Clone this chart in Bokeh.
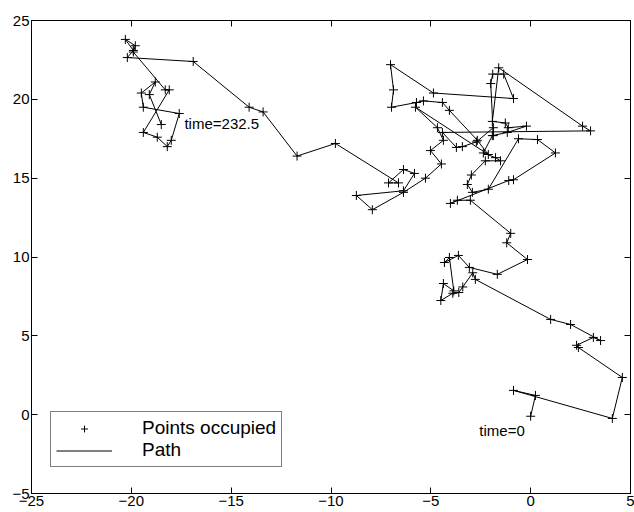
from bokeh.plotting import figure
from bokeh.models import Range1d, LinearAxis, FixedTicker, Label, Legend, LegendItem
from bokeh.embed import file_html
from bokeh.resources import INLINE

# Random walk path, in time order (start -> end)
walk_x = [0.0, 0.24, -0.86, 4.09, 4.59, 2.39, 2.3, 3.14, 3.5, 2.0, 1.0, -2.77, -2.9, -3.4, -3.6, -3.9,
          -4.5, -4.37, -3.85, -4.07, -4.32, -3.62, -3.07, -1.67, -0.16, -1.2, -1.0, -3.02, -3.67, -4.02,
          -1.1, -0.86, 1.24, 0.34, -0.61, -2.12, -2.92, -3.17, -2.97, -2.27, -1.51, -1.76, -2.37, -1.92,
          -1.17, -0.21, -1.12, -1.27, -1.92, -1.6, 2.6, 3.0, -4.42, -3.72, -3.42, -2.72, -1.87, -1.87,
          -2.0, -1.9, -1.35, -0.86, -4.87, -7.02, -6.87, -6.97, -5.72, -5.37, -4.42, -4.07, -2.67, -2.12,
          -5.77, -4.67, -4.37, -5.02, -4.47, -5.27, -6.37, -7.93, -8.73, -6.37, -5.82, -6.37, -7.12, -6.62,
          -9.78, -11.7, -13.4, -14.1, -16.9, -20.2, -19.9, -20.3, -19.8, -19.9, -18.3, -18.1, -19.4, -18.7,
          -18.2, -18.0, -17.6, -19.4, -19.5, -18.8, -19.1, -18.5]
walk_y = [-0.1, 1.22, 1.54, -0.24, 2.36, 4.26, 4.4, 4.9, 4.7, 5.72, 6.04, 8.58, 9.0, 8.1, 7.75, 7.7,
          7.24, 8.32, 7.85, 9.97, 9.65, 10.1, 9.34, 8.9, 9.84, 10.9, 11.5, 13.6, 13.6, 13.4,
          14.85, 14.9, 16.6, 17.45, 17.5, 14.3, 14.1, 14.6, 15.2, 16.1, 16.1, 16.3, 16.6, 17.7,
          17.9, 18.3, 18.2, 18.5, 18.6, 22.0, 18.3, 18.0, 17.9, 16.95, 17.0, 17.3, 18.2, 17.7,
          21.0, 21.6, 21.6, 20.05, 20.4, 22.2, 20.6, 19.5, 19.8, 19.9, 19.8, 19.3, 17.4, 16.5,
          19.5, 18.2, 17.4, 16.75, 15.9, 15.0, 14.1, 13.0, 13.9, 14.2, 15.3, 15.55, 14.7, 14.7,
          17.2, 16.4, 19.2, 19.5, 22.4, 22.65, 23.1, 23.8, 23.4, 23.0, 20.6, 20.6, 17.9, 17.6,
          17.0, 17.4, 19.1, 19.5, 20.4, 21.1, 20.3, 18.4]

tick_values = [-25, -20, -15, -10, -5, 0, 5]
y_tick_values = [-5, 0, 5, 10, 15, 20, 25]
start_text = "time=0"
end_text = "time=232.5"

FONT = "Liberation Sans"

p = figure(width=634, height=512, output_backend="svg", toolbar_location=None,
           x_range=Range1d(-25, 5), y_range=Range1d(-5, 25),
           min_border_left=31, min_border_right=4, min_border_top=20, min_border_bottom=19,
           x_axis_location=None, y_axis_location=None)
p.xgrid.visible = False
p.ygrid.visible = False
p.outline_line_color = "black"
p.outline_line_width = 1
p.background_fill_color = "white"
p.border_fill_color = "white"

def style_axis(ax, ticks, labels=True):
    ax.axis_line_color = "black"
    ax.major_tick_in = 6
    ax.major_tick_out = 0
    ax.minor_tick_in = 0
    ax.minor_tick_out = 0
    ax.major_tick_line_color = "black"
    ax.major_label_text_font = FONT
    ax.major_label_text_color = "black"
    ax.major_label_text_font_size = "15px"
    if labels:
        ax.major_label_standoff = 2
    else:
        ax.major_label_standoff = 0
        ax.major_label_overrides = {t: "" for t in ticks}

xb = LinearAxis(ticker=FixedTicker(ticks=tick_values))
style_axis(xb, tick_values)
p.add_layout(xb, "below")
xt = LinearAxis(ticker=FixedTicker(ticks=tick_values))
style_axis(xt, tick_values, labels=False)
p.add_layout(xt, "above")
yl = LinearAxis(ticker=FixedTicker(ticks=y_tick_values))
style_axis(yl, y_tick_values)
p.add_layout(yl, "left")
yr = LinearAxis(ticker=FixedTicker(ticks=y_tick_values))
style_axis(yr, y_tick_values, labels=False)
p.add_layout(yr, "right")

ln = p.line(walk_x, walk_y, line_color="black", line_width=1)
pts = p.scatter(walk_x, walk_y, marker="cross", size=9, line_color="black", line_width=1)

p.add_layout(Label(x=-2.57, y=-1.0, text=start_text, text_font=FONT, text_font_size="15px",
                   text_baseline="middle", text_color="black"))
p.add_layout(Label(x=-17.34, y=18.49, text=end_text, text_font=FONT, text_font_size="15px",
                   text_baseline="middle", text_color="black"))

legend = Legend(items=[LegendItem(label="Points occupied", renderers=[pts]),
                       LegendItem(label="Path", renderers=[ln])],
                location=(19, 26))
legend.border_line_color = "black"
legend.border_line_width = 1
legend.background_fill_alpha = 1
legend.label_text_font = FONT
legend.label_text_font_size = "19px"
legend.label_text_color = "black"
legend.padding = 5
legend.spacing = 0
legend.margin = 0
legend.glyph_width = 56
legend.glyph_height = 17
legend.label_height = 17
legend.label_standoff = 30
p.add_layout(legend, "center")

open("out.html", "w").write(file_html(p, INLINE))
